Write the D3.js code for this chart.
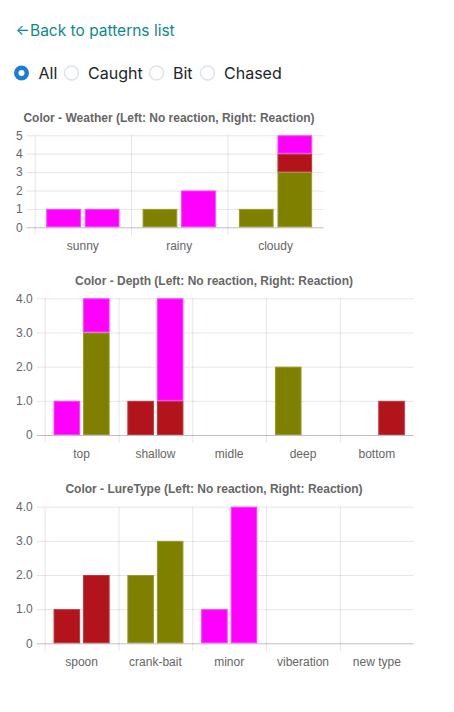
<!DOCTYPE html>
<html lang="en">
<head>
<meta charset="UTF-8">
<title>Color patterns</title>
<style>
  body { margin: 0; background: #fff; }
  .ui { font-family: Inter, "Noto Sans", sans-serif; }
  .chart text { font-family: "Liberation Sans", Arial, sans-serif; fill: #666; }
  .chart .title { font-weight: bold; font-size: 12px; }
  .tick text { font-size: 12px; }
</style>
</head>
<body>
<div id="page"></div>
<script src="https://cdn.jsdelivr.net/npm/d3@7"></script>
<script>
// series order: bottom to top of each stack
const seriesKeys = ['olive', 'red', 'magenta']
const seriesColors = ['#808000', '#b3131b', '#ff00ff']
const seriesBorders = ['#99992e', '#c2353c', '#ff3dff']

const weatherCategories = ['sunny', 'rainy', 'cloudy']
const weatherNoReaction = [[0, 1, 1], [0, 0, 0], [1, 0, 0]]
const weatherReaction = [[0, 0, 3], [0, 0, 1], [1, 2, 1]]
const weatherTicks = [0, 1, 2, 3, 4, 5]

const depthCategories = ['top', 'shallow', 'midle', 'deep', 'bottom']
const depthNoReaction = [[0, 0, 0, 2, 0], [0, 1, 0, 0, 0], [1, 0, 0, 0, 0]]
const depthReaction = [[3, 0, 0, 0, 0], [0, 1, 0, 0, 1], [1, 3, 0, 0, 0]]
const depthTicks = [0, 1, 2, 3, 4]

const lureCategories = ['spoon', 'crank-bait', 'minor', 'viberation', 'new type']
const lureNoReaction = [[0, 2, 0, 0, 0], [1, 0, 0, 0, 0], [0, 0, 1, 0, 0]]
const lureReaction = [[0, 3, 0, 0, 0], [2, 0, 0, 0, 0], [0, 0, 4, 0, 0]]
const lureTicks = [0, 1, 2, 3, 4]

const filterLabels = ['All', 'Caught', 'Bit', 'Chased']

const svg = d3.select('#page').append('svg').attr('width', 454).attr('height', 712)

// back link
const ui = svg.append('g').attr('class', 'ui')
ui.append('text').attr('x', 15.5).attr('y', 35).attr('font-size', 15).attr('fill', '#0e8a83').text('←')
ui.append('text').attr('x', 30).attr('y', 35.5).attr('font-size', 15.5).attr('fill', '#0e8a83').text('Back to patterns list')

// radio filters
const radioX = [21.5, 71.5, 156.5, 207.5]
const labelX = [38.5, 88, 173, 224]
filterLabels.forEach((lab, i) => {
  if (i === 0) {
    ui.append('circle').attr('cx', radioX[i]).attr('cy', 73).attr('r', 7.5).attr('fill', '#1a7bd8')
    ui.append('circle').attr('cx', radioX[i]).attr('cy', 73).attr('r', 3).attr('fill', '#fff')
  } else {
    ui.append('circle').attr('cx', radioX[i]).attr('cy', 73).attr('r', 7).attr('fill', '#fff')
      .attr('stroke', '#dfe4ec').attr('stroke-width', 1.5)
  }
  ui.append('text').attr('x', labelX[i]).attr('y', 79).attr('font-size', 16).attr('fill', '#212529').text(lab)
})

function drawChart (opt) {
  const g = svg.append('g').attr('class', 'chart')
  const x = d3.scaleBand().domain(opt.categories).range([opt.left, opt.right])
  const bw = x.bandwidth()
  const side = d3.scaleBand().domain(['left', 'right'])
    .range([bw * 0.1, bw * 0.9]).paddingInner(0.1).paddingOuter(0.05)
  const y = d3.scaleLinear().domain([0, d3.max(opt.ticks)]).range([opt.bottom, opt.top])

  g.append('text').attr('class', 'title').attr('x', opt.titleX).attr('y', opt.titleY)
    .attr('text-anchor', 'middle').text(opt.title)

  // horizontal grid + y labels
  const yAxis = d3.axisLeft(y).tickValues(opt.ticks)
    .tickSize(-(opt.right - opt.left + 8)).tickPadding(4).tickFormat(opt.format)
  const ya = g.append('g').attr('transform', 'translate(' + (opt.left - 8) + ',0)').call(yAxis)
  ya.select('.domain').remove()
  ya.selectAll('.tick line').attr('stroke', d => d === 0 ? 'rgba(0,0,0,0.25)' : 'rgba(0,0,0,0.1)')
  ya.selectAll('.tick text').attr('fill', '#666')

  // vertical grid at category boundaries
  g.selectAll('.vgrid').data(opt.categories).enter().append('line')
    .attr('x1', d => x(d) + 0.5).attr('x2', d => x(d) + 0.5)
    .attr('y1', opt.top).attr('y2', opt.bottom + 8)
    .attr('stroke', 'rgba(0,0,0,0.1)')

  g.selectAll('.xlab').data(opt.categories).enter().append('text')
    .attr('x', d => x(d) + bw / 2).attr('y', opt.labelY)
    .attr('text-anchor', 'middle').attr('font-size', 12).text(d => d)

  // stacked bars, left = no reaction, right = reaction
  const sides = [['left', opt.noReaction], ['right', opt.reaction]]
  sides.forEach(([key, rows]) => {
    const table = opt.categories.map((c, i) => {
      const row = { cat: c }
      seriesKeys.forEach((k, j) => { row[k] = rows[j][i] })
      return row
    })
    const stacked = d3.stack().keys(seriesKeys)(table)
    stacked.forEach((layer, j) => {
      g.selectAll(null).data(layer.filter(d => d[1] - d[0] > 0)).enter().append('rect')
        .attr('x', d => x(d.data.cat) + side(key) + 0.5)
        .attr('width', side.bandwidth() - 1)
        .attr('y', d => y(d[1]) + 0.5)
        .attr('height', d => y(d[0]) - y(d[1]) - 1)
        .attr('fill', seriesColors[j])
        .attr('stroke', seriesBorders[j])
        .attr('stroke-width', 1)
    })
  })
}

const decimal = d => d === 0 ? '0' : d3.format('.1f')(d)

drawChart({
  title: 'Color - Weather (Left: No reaction, Right: Reaction)',
  categories: weatherCategories, noReaction: weatherNoReaction, reaction: weatherReaction,
  ticks: weatherTicks, format: d3.format('d'),
  left: 34.7, right: 323.7, top: 135.3, bottom: 227.3, titleX: 169, titleY: 122, labelY: 250
})
drawChart({
  title: 'Color - Depth (Left: No reaction, Right: Reaction)',
  categories: depthCategories, noReaction: depthNoReaction, reaction: depthReaction,
  ticks: depthTicks, format: decimal,
  left: 44.7, right: 413.7, top: 298.3, bottom: 435, titleX: 214, titleY: 285, labelY: 458
})
drawChart({
  title: 'Color - LureType (Left: No reaction, Right: Reaction)',
  categories: lureCategories, noReaction: lureNoReaction, reaction: lureReaction,
  ticks: lureTicks, format: decimal,
  left: 44.7, right: 413.7, top: 506.7, bottom: 643.3, titleX: 214, titleY: 493, labelY: 666
})
</script>
</body>
</html>
